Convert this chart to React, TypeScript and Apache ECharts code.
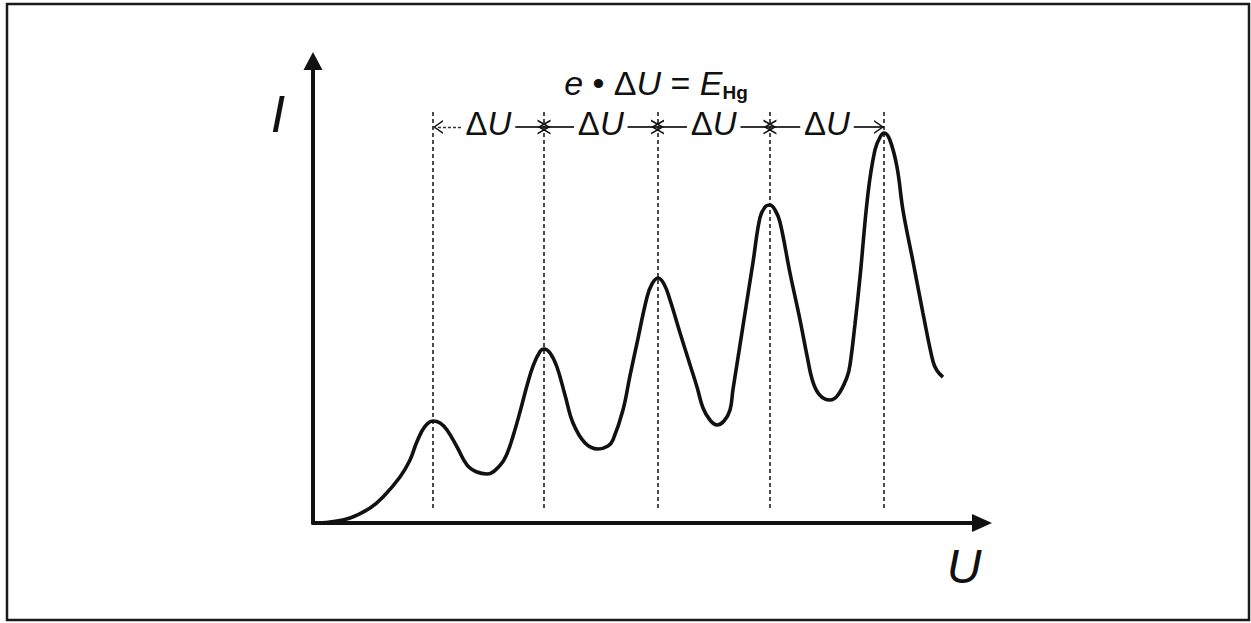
import React, { useEffect, useRef } from "react";
import * as echarts from "echarts";

// Accelerating voltage U (arbitrary volts) and anode current I (arbitrary units)
const uVolts = [0, 0.76, 1.66, 2.56, 3.14, 3.9, 4.35, 4.66, 5.02, 5.38, 5.7, 6.01, 6.46, 6.91, 7.35, 7.8, 8.39, 8.7, 8.97, 9.28, 9.6, 9.87, 10.18, 10.36, 10.63, 10.94, 11.3, 11.66, 12.2, 12.78, 13.23, 13.45, 13.9, 14.22, 14.53, 14.98, 15.2, 15.47, 15.74, 16.01, 16.46, 16.91, 17.22, 17.49, 17.8, 18.12, 18.43, 18.7, 18.83, 19.01, 19.28, 19.73, 20.04, 20.27, 20.49, 20.72, 20.94, 21.39, 21.84, 22.15, 22.42, 22.74, 23.18, 23.54, 23.95, 24.08, 24.3, 24.53, 24.89, 25.2, 25.43, 25.61, 25.87, 26.19, 26.46, 26.91, 27.35, 27.8, 27.98, 28.25];
const currentI = [0, 0.22, 1.08, 3.25, 5.63, 9.96, 13.64, 17.6, 20.9, 22.08, 21.65, 20.13, 16.45, 12.55, 11.04, 10.61, 12.5, 15.0, 18.8, 24.0, 29.8, 34.0, 37.1, 37.66, 36.8, 33.77, 27.71, 21.65, 17.32, 16.02, 16.67, 17.97, 24.46, 32.03, 38.96, 48.92, 51.73, 53.03, 51.73, 48.27, 41.13, 34.2, 29.44, 24.89, 22.29, 21.21, 22.08, 24.46, 28.8, 34.3, 42.6, 56.4, 66.02, 68.4, 68.83, 67.75, 65.15, 54.11, 43.94, 36.3, 30.5, 27.6, 26.62, 27.71, 31.6, 34.2, 42.86, 53.25, 71.43, 80.74, 83.55, 84.42, 82.9, 77.0, 67.6, 56.5, 45.5, 35.0, 33.0, 31.6];

// Peak positions (maxima) of the current
const peakU = [5.38, 10.36, 15.45, 20.49, 25.61];
// Vertical extent of the dotted peak markers and level of the ΔU guide line (data units)
const markerLow = 3.25;
const markerHigh = 89.4;
const guideLevel = 85.7;

// Texts
const deltaText = "{d|Δ}{u|U}";
const formulaText = "{i|e} {n|•} {n|Δ}{i|U} {n|=} {i|E}{s|Hg}";
const yAxisTitle = "I";
const xAxisTitle = "U";

const axisRange = { xMax: 30, yMax: 100 };
const labelGap = 1.2;

const chevron = "path://M0,0L10,7L0,14L0,12.2L7.6,7L0,1.8Z";
const FONT = "'Liberation Sans', Arial, sans-serif";
const INK = "#111";

export default function App() {
  const ref = useRef<HTMLDivElement>(null);

  useEffect(() => {
    if (!ref.current) return;
    const chart = echarts.init(ref.current, null, { renderer: "svg" });

    const curve = uVolts.map((u, k) => [u, currentI[k]]);

    const peakLines = peakU.map((p) => [
      { coord: [p, markerLow] },
      { coord: [p, markerHigh] },
    ]);

    const segments: any[] = [];
    const mids: number[] = [];
    for (let k = 0; k < peakU.length - 1; k++) {
      const m = (peakU[k] + peakU[k + 1]) / 2;
      mids.push(m);
      segments.push([
        {
          coord: [peakU[k], guideLevel],
          lineStyle: k === 0 ? { type: [3, 2], width: 1.3, color: "#333" } : undefined,
        },
        { coord: [m - labelGap, guideLevel] },
      ]);
      segments.push([{ coord: [m + labelGap, guideLevel] }, { coord: [peakU[k + 1], guideLevel] }]);
    }

    const chevrons: any[] = [];
    peakU.forEach((p, k) => {
      const last = peakU.length - 1;
      if (k > 0) {
        chevrons.push({
          value: [p, guideLevel],
          symbolRotate: 0,
          symbolSize: k === last ? [10, 14] : [13, 15],
          symbolOffset: k === last ? [-5, 0] : [0, 0],
        });
      }
      if (k < last) {
        chevrons.push({
          value: [p, guideLevel],
          symbolRotate: 180,
          symbolSize: k === 0 ? [10, 14] : [13, 15],
          symbolOffset: k === 0 ? [5, 0] : [0, 0],
        });
      }
    });

    chart.setOption({
      animation: false,
      grid: { left: 313, right: 269, top: 61, bottom: 100, containLabel: false },
      xAxis: {
        type: "value",
        min: 0,
        max: axisRange.xMax,
        axisLine: {
          onZero: true,
          symbol: ["none", "triangle"],
          symbolSize: [18, 20],
          lineStyle: { color: INK, width: 4 },
        },
        axisTick: { show: false },
        axisLabel: { show: false },
        splitLine: { show: false },
      },
      yAxis: {
        type: "value",
        min: 0,
        max: axisRange.yMax,
        axisLine: {
          show: true,
          symbol: ["none", "triangle"],
          symbolSize: [19, 18],
          lineStyle: { color: INK, width: 4 },
        },
        axisTick: { show: false },
        axisLabel: { show: false },
        splitLine: { show: false },
      },
      series: [
        {
          type: "line",
          name: "I(U)",
          data: curve,
          smooth: 0.4,
          showSymbol: false,
          symbol: "none",
          lineStyle: { color: INK, width: 3.6 },
          silent: true,
          z: 3,
          markLine: {
            silent: true,
            symbol: ["none", "none"],
            label: { show: false },
            lineStyle: { type: [4, 3], width: 1.5, color: INK },
            emphasis: { disabled: true },
            data: peakLines,
          },
        },
        {
          type: "scatter",
          name: "arrows",
          symbol: chevron,
          symbolKeepAspect: false,
          itemStyle: { color: INK, opacity: 1 },
          silent: true,
          z: 4,
          data: chevrons,
          markLine: {
            silent: true,
            symbol: ["none", "none"],
            label: { show: false },
            lineStyle: { type: "solid", width: 1.7, color: INK },
            emphasis: { disabled: true },
            data: segments,
          },
        },
        {
          type: "scatter",
          name: "labels",
          symbolSize: 1,
          itemStyle: { color: "rgba(0,0,0,0)", opacity: 1 },
          silent: true,
          z: 5,
          data: mids.map((m) => [m, guideLevel]),
          label: {
            show: true,
            position: "inside",
            offset: [0, -4],
            color: INK,
            opacity: 1,
            textBorderWidth: 0,
            formatter: deltaText,
            rich: {
              d: { fontFamily: FONT, fontSize: 33, color: INK, textBorderWidth: 0 },
              u: { fontFamily: FONT, fontSize: 33, fontStyle: "italic", color: INK, textBorderWidth: 0 },
            },
          },
        },
      ],
      graphic: [
        {
          type: "rect",
          silent: true,
          shape: { x: 7, y: 4, width: 1242, height: 616 },
          style: { fill: "none", stroke: "#1a1a1a", lineWidth: 2.5 },
        },
        {
          type: "text",
          silent: true,
          x: 656,
          y: 83,
          style: {
            text: formulaText,
            align: "center",
            verticalAlign: "middle",
            fontFamily: FONT,
            fontSize: 34,
            fill: INK,
            rich: {
              i: { fontFamily: FONT, fontSize: 34, fontStyle: "italic", fill: INK, lineHeight: 38 },
              n: { fontFamily: FONT, fontSize: 34, fill: INK, lineHeight: 38 },
              s: { fontFamily: FONT, fontSize: 19, fontWeight: "bold", fill: INK, verticalAlign: "bottom", lineHeight: 19 },
            },
          },
        },
        {
          type: "text",
          silent: true,
          x: 278,
          y: 114,
          style: {
            text: yAxisTitle,
            align: "center",
            verticalAlign: "middle",
            fontFamily: FONT,
            fontSize: 52,
            fontStyle: "italic",
            fill: INK,
          },
        },
        {
          type: "text",
          silent: true,
          x: 964,
          y: 566,
          style: {
            text: xAxisTitle,
            align: "center",
            verticalAlign: "middle",
            fontFamily: FONT,
            fontSize: 48,
            fontStyle: "italic",
            fill: INK,
          },
        },
      ],
    });

    return () => chart.dispose();
  }, []);

  return (
    <div
      ref={ref}
      style={{ position: "absolute", left: 0, top: 0, width: 1251, height: 623, background: "#fff" }}
    />
  );
}
